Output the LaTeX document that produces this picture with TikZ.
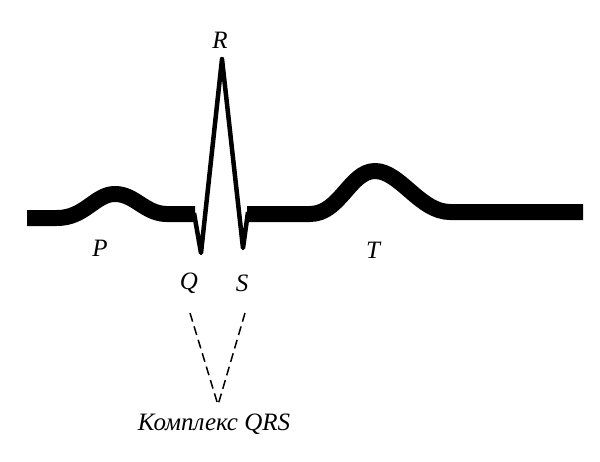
\documentclass[tikz,border=0pt]{standalone}
\usepackage{fontspec}
\setmainfont{Liberation Serif}
\usetikzlibrary{positioning}

\begin{document}
\begin{tikzpicture}[
    x=1pt,y=-1pt,
    every node/.style={font=\fontsize{25}{28}\selectfont\itshape},
    wave/.style={line width=16pt,line cap=butt,line join=round},
    spike/.style={line width=4.5pt,line join=round,line cap=butt},
    guide/.style={line width=1.5pt,dash pattern=on 9pt off 5pt},
  ]
    \useasboundingbox (0,0) rectangle (600,461);
    % baseline with P wave
    \draw[wave] (27,218) -- (57,218)
      .. controls (85,218) and (95,194) .. (115,194)
      .. controls (135,194) and (145,214) .. (167,214) -- (195,214);
    % QRS spike
    \draw[spike] (194,213) -- (201,253) -- (222,59) -- (243,248) -- (248,212);
    % baseline with T wave
    \draw[wave] (247,214) -- (310,214)
      .. controls (340,214) and (350,171) .. (375,171)
      .. controls (400,171) and (420,212) .. (450,212) -- (583,212);
    % labels
    \node (lblR) at (220,40)  {R};
    \node (lblP) at (100,248) {P};
    \node (lblQ) at (189,283) {Q};
    \node (lblS) at (242,283) {S};
    \node (lblT) at (373,250) {T};
    \node (qrs)  at (214,424) {Комплекс QRS};
    \coordinate (qTop) at (190,313);
    \coordinate (sTop) at (245,313);
    \coordinate (meet) at (218,405);
    \draw[guide] (qTop) -- (meet);
    \draw[guide] (sTop) -- (meet);
  \end{tikzpicture}
\end{document}
